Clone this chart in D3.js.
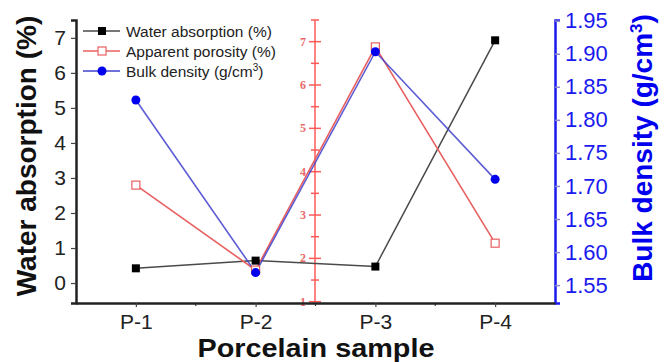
<!DOCTYPE html>
<html><head><meta charset="utf-8">
<script src="https://cdn.jsdelivr.net/npm/d3@7"></script>
<style>
body{margin:0;background:#fff;}
text{font-family:"Liberation Sans",Arial,sans-serif;}
</style></head>
<body><svg id="c" width="672" height="362"></svg>
<script>
const categories = ["P-1","P-2","P-3","P-4"];
const waterAbsorption = [0.42, 0.64, 0.47, 6.93];
const apparentPorosity = [3.69, 1.73, 6.88, 2.35];
const bulkDensity = [1.83, 1.569, 1.903, 1.71];
const leftTicks = [0,1,2,3,4,5,6,7];
const redTicks = [1,2,3,4,5,6,7];
const rightTicks = [1.55,1.60,1.65,1.70,1.75,1.80,1.85,1.90,1.95];

const svg = d3.select("#c");
const L=76, R=555, T=20, B=303, RX=315;
const x = d3.scalePoint().domain(categories).range([L,R]).padding(0.5);
const yL = d3.scaleLinear().domain([-0.57,7.51]).range([B,T]);
const yRed = d3.scaleLinear().domain([0.97,7.5]).range([B,T]);
const yR = d3.scaleLinear().domain([1.523,1.951]).range([B,T]);

// left axis
const gL = svg.append("g").attr("transform",`translate(${L},0)`);
gL.call(d3.axisLeft(yL).tickValues(d3.range(-0.5,7.51,0.5)).tickSize(3).tickFormat(""));
gL.call(d3.axisLeft(yL).tickValues(leftTicks).tickSize(5).tickFormat(d3.format("d")).tickPadding(5));
gL.selectAll(".domain").attr("stroke","#222").attr("stroke-width",2.5);
gL.selectAll(".tick line").attr("stroke","#444").attr("stroke-width",1.2);
gL.selectAll(".tick text").attr("font-size",21).attr("fill","#222").attr("font-family","Liberation Sans,Arial,sans-serif");

// right axis
const gR = svg.append("g").attr("transform",`translate(${R},0)`);
gR.call(d3.axisRight(yR).tickValues(d3.range(1.525,1.951,0.025)).tickSize(3).tickFormat(""));
gR.call(d3.axisRight(yR).tickValues(rightTicks).tickSize(5).tickFormat(d3.format(".2f")).tickPadding(5));
gR.selectAll(".domain").attr("stroke","#1a1aee").attr("stroke-width",2.5);
gR.selectAll(".tick line").attr("stroke","#8a8acc").attr("stroke-width",1.5);
gR.selectAll(".tick text").attr("font-size",22).attr("fill","#1a1aee").attr("font-family","Liberation Sans,Arial,sans-serif");

// red middle axis
const gM = svg.append("g").attr("transform",`translate(${RX},0)`);
gM.append("line").attr("x1",0).attr("x2",0).attr("y1",T).attr("y2",B).attr("stroke","#ff5a5a").attr("stroke-width",1.5);
const minorRed = d3.range(1.5,7.51,0.5).filter(v=>v%1!==0);
gM.selectAll(".mn").data(minorRed).join("line").attr("x1",-4).attr("x2",4)
  .attr("y1",d=>yRed(d)).attr("y2",d=>yRed(d)).attr("stroke","#ff5a5a").attr("stroke-width",1.5);
gM.selectAll(".mj").data(redTicks).join("line").attr("x1",-6).attr("x2",6)
  .attr("y1",d=>yRed(d)).attr("y2",d=>yRed(d)).attr("stroke","#ff5a5a").attr("stroke-width",1.5);
gM.selectAll(".lb").data(redTicks).join("text").attr("x",-9).attr("y",d=>yRed(d)+4)
  .attr("text-anchor","end").attr("font-size",12).attr("font-weight","bold")
  .attr("fill","#e86a6a").style("font-family","Liberation Serif,Times New Roman,serif").text(d=>d);

// x axis
const gX = svg.append("g").attr("transform",`translate(0,${B})`);
const mids = [];
for(let i=0;i<categories.length-1;i++) mids.push((x(categories[i])+x(categories[i+1]))/2);
gX.selectAll(".xm").data(mids).join("line").attr("x1",d=>d).attr("x2",d=>d).attr("y1",0).attr("y2",3)
  .attr("stroke","#444").attr("stroke-width",1.2);
gX.call(d3.axisBottom(x).tickSize(4).tickSizeOuter(0).tickPadding(7));
gX.selectAll(".domain").attr("stroke","#222").attr("stroke-width",2.5);
gX.selectAll(".tick line").attr("stroke","#444").attr("stroke-width",1.2);
gX.selectAll(".tick text").attr("font-size",21).attr("fill","#222").attr("font-family","Liberation Sans,Arial,sans-serif");

// lines
const lineOf = (ys,vals)=>d3.line().x((d,i)=>x(categories[i])).y(d=>ys(d))(vals);
svg.append("path").attr("d",lineOf(yL,waterAbsorption)).attr("fill","none").attr("stroke","#4a4a4a").attr("stroke-width",1.5);
svg.append("path").attr("d",lineOf(yRed,apparentPorosity)).attr("fill","none").attr("stroke","#e86060").attr("stroke-width",1.6);
svg.append("path").attr("d",lineOf(yR,bulkDensity)).attr("fill","none").attr("stroke","#4040cc").attr("stroke-width",1.6).attr("stroke-opacity",0.85);

svg.selectAll(".wa").data(waterAbsorption).join("rect")
  .attr("x",(d,i)=>x(categories[i])-4).attr("y",d=>yL(d)-4).attr("width",8).attr("height",8).attr("fill","#000");
svg.selectAll(".ap").data(apparentPorosity).join("rect")
  .attr("x",(d,i)=>x(categories[i])-4).attr("y",d=>yRed(d)-4).attr("width",8).attr("height",8)
  .attr("fill","#fff").attr("stroke","#e86060").attr("stroke-width",1.2);
svg.selectAll(".bd").data(bulkDensity).join("circle")
  .attr("cx",(d,i)=>x(categories[i])).attr("cy",d=>yR(d)).attr("r",4.5).attr("fill","#0000ee");

// legend
const legend = [
  {label:"Water absorption (%)", color:"#4a4a4a", mk:"sq"},
  {label:"Apparent porosity (%)", color:"#e86060", mk:"open"},
  {label:"Bulk density (g/cm", color:"#4040cc", mk:"circ"}
];
const lg = svg.append("g");
legend.forEach((d,i)=>{
  const yy = 31 + i*20;
  lg.append("line").attr("x1",83).attr("x2",120).attr("y1",yy).attr("y2",yy).attr("stroke",d.color).attr("stroke-width",1.5);
  if(d.mk==="sq") lg.append("rect").attr("x",98).attr("y",yy-4).attr("width",8).attr("height",8).attr("fill","#000");
  if(d.mk==="open") lg.append("rect").attr("x",98).attr("y",yy-4).attr("width",8).attr("height",8).attr("fill","#fff").attr("stroke","#e86060").attr("stroke-width",1.2);
  if(d.mk==="circ") lg.append("circle").attr("cx",102).attr("cy",yy).attr("r",4.5).attr("fill","#0000ee");
  const t = lg.append("text").attr("x",126).attr("y",yy+5.5).attr("font-size",15.5).attr("fill","#222").text(d.label);
  if(d.mk==="circ"){
    t.append("tspan").attr("dy",-6).attr("font-size",10).text("3");
    t.append("tspan").attr("dy",6).text(")");
  }
});

// axis titles
svg.append("text").attr("transform","translate(36,156) rotate(-90)").attr("text-anchor","middle")
  .attr("font-size",28).attr("font-weight","bold").attr("fill","#111").text("Water absorption (%)");
const rt = svg.append("text").attr("transform","translate(652,148) rotate(-90)").attr("text-anchor","middle")
  .attr("font-size",28).attr("font-weight","bold").attr("fill","#0000ee").text("Bulk density (g/cm");
rt.append("tspan").attr("dy",-10).attr("font-size",17).text("3");
rt.append("tspan").attr("dy",10).text(")");
svg.append("text").attr("x",316).attr("y",357).attr("text-anchor","middle")
  .attr("font-size",26).attr("font-weight","bold").attr("fill","#111")
  .attr("textLength",237).attr("lengthAdjust","spacingAndGlyphs").text("Porcelain sample");
</script></body></html>
